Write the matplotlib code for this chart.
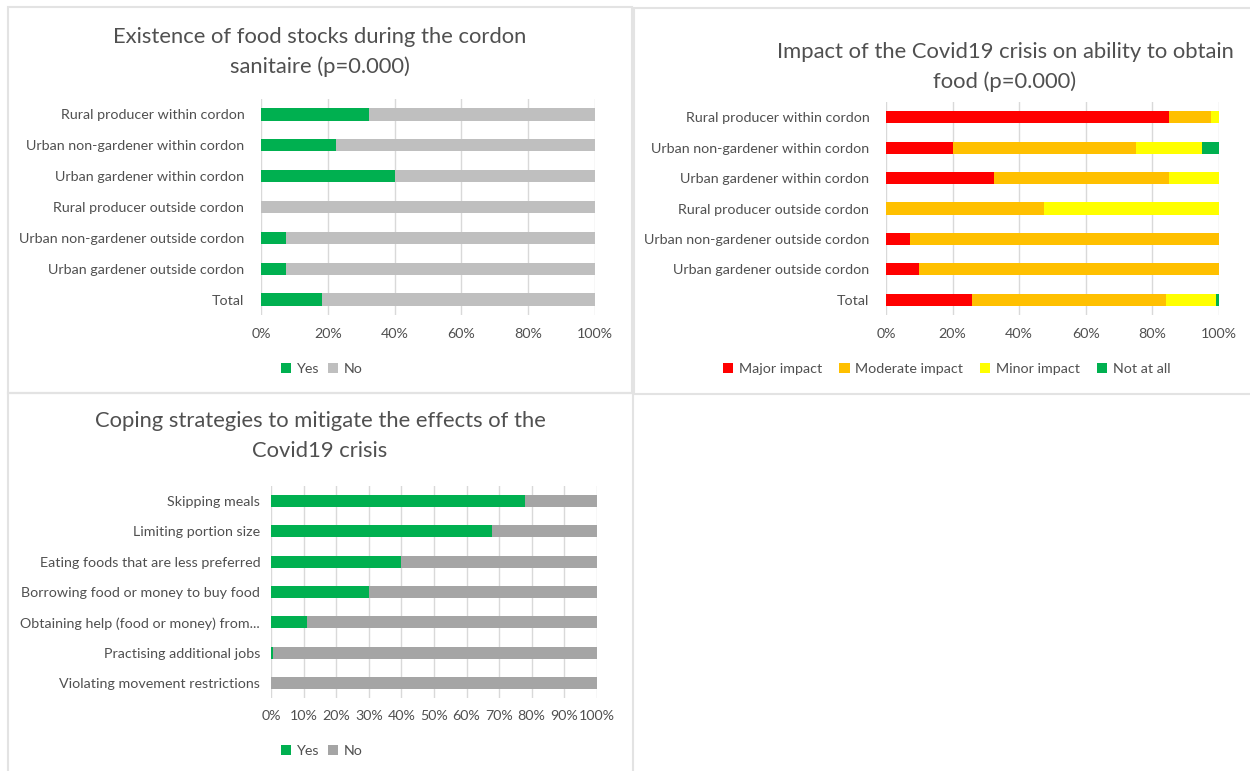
import matplotlib
matplotlib.use("Agg")
import matplotlib.pyplot as plt
from matplotlib.patches import Rectangle
import numpy as np

plt.rcParams['font.family'] = ['Lato', 'DejaVu Sans']

# ---------------- data ----------------
stock_categories = ["Rural producer within cordon", "Urban non-gardener within cordon",
                    "Urban gardener within cordon", "Rural producer outside cordon",
                    "Urban non-gardener outside cordon", "Urban gardener outside cordon", "Total"]
stock_yes = [32.4, 22.4, 40.0, 0.0, 7.4, 7.4, 18.4]
stock_no = [67.6, 77.6, 60.0, 100.0, 92.6, 92.6, 81.6]

impact_categories = stock_categories
impact_major = [85.0, 20.0, 32.5, 0.0, 7.3, 10.0, 25.7]
impact_moderate = [12.6, 55.0, 52.5, 47.4, 92.7, 90.0, 58.5]
impact_minor = [2.4, 20.0, 15.0, 52.6, 0.0, 0.0, 15.0]
impact_none = [0.0, 5.0, 0.0, 0.0, 0.0, 0.0, 0.8]

coping_categories = ["Skipping meals", "Limiting portion size", "Eating foods that are less preferred",
                     "Borrowing food or money to buy food", "Obtaining help (food or money) from...",
                     "Practising additional jobs", "Violating movement restrictions"]
coping_yes = [78.1, 67.9, 39.8, 30.0, 10.9, 0.5, 0.0]
coping_no = [21.9, 32.1, 60.2, 70.0, 89.1, 99.5, 100.0]

stock_ticks = [0, 20, 40, 60, 80, 100]
coping_ticks = [0, 10, 20, 30, 40, 50, 60, 70, 80, 90, 100]

GREEN = "#00B050"
GREY1 = "#BFBFBF"
GREY2 = "#A5A5A5"
RED = "#FF0000"
ORANGE = "#FFC000"
YELLOW = "#FFFF00"
TXT = "#505050"
GRID = "#D9D9D9"

LABEL_FS = 10.3
TITLE_FS = 15.8

W, H = 1250, 771
fig = plt.figure(figsize=(W / 100, H / 100), dpi=100)


def fx(x):
    return x / W


def fy(y):
    return 1 - y / H


# panel borders
for (x0, y0, x1, y1) in [(8, 7, 632, 393), (634, 8, 1262, 394), (8, 393, 633, 780)]:
    fig.patches.append(Rectangle((fx(x0), fy(y1)), fx(x1 - x0), (y1 - y0) / H,
                                 transform=fig.transFigure, fill=False,
                                 edgecolor="#E3E3E3", linewidth=1.5, zorder=0))


def make_axes(px_left, px_right, px_top, px_bottom):
    return fig.add_axes([fx(px_left), fy(px_bottom), fx(px_right - px_left), (px_bottom - px_top) / H])


def style(ax, cats, ticks, ypad):
    n = len(cats)
    ax.set_ylim(n - 0.5, -0.5)
    ax.set_xlim(0, 100)
    ax.set_yticks(range(n))
    ax.set_yticklabels(cats, fontsize=LABEL_FS, color=TXT)
    ax.set_xticks(ticks)
    ax.set_xticklabels([f"{t}%" for t in ticks], fontsize=LABEL_FS, color=TXT)
    for s in ax.spines.values():
        s.set_visible(False)
    ax.tick_params(axis='both', length=0)
    ax.tick_params(axis='y', pad=ypad)
    ax.tick_params(axis='x', pad=9)
    ax.grid(axis='x', color=GRID, linewidth=1)
    ax.set_axisbelow(True)


def stacked(ax, cats, series, colors, labels):
    y = np.arange(len(cats))
    left = np.zeros(len(cats))
    handles = []
    for vals, c, lab in zip(series, colors, labels):
        b = ax.barh(y, vals, left=left, height=0.4, color=c, label=lab)
        handles.append(b)
        left = left + np.array(vals)
    return handles


def legend(handles, labels, cx, cy, spacing):
    fig.legend(handles, labels, loc='center', bbox_to_anchor=(fx(cx), fy(cy)), ncol=len(labels),
               frameon=False, fontsize=LABEL_FS, labelcolor=TXT, handlelength=0.7, handleheight=0.7,
               handletextpad=0.4, columnspacing=spacing)


# ---- chart 1 ----
ax1 = make_axes(261, 595, 99, 315)
h1 = stacked(ax1, stock_categories, [stock_yes, stock_no], [GREEN, GREY1], ["Yes", "No"])
style(ax1, stock_categories, stock_ticks, 12)
fig.text(fx(320), fy(52), "Existence of food stocks during the cordon\nsanitaire (p=0.000)",
         ha='center', va='center', fontsize=TITLE_FS, color=TXT, linespacing=1.6)
legend(h1, ["Yes", "No"], 322, 369, 0.6)

# ---- chart 2 ----
ax2 = make_axes(886, 1219, 102, 315)
h2 = stacked(ax2, impact_categories, [impact_major, impact_moderate, impact_minor, impact_none],
             [RED, ORANGE, YELLOW, GREEN],
             ["Major impact", "Moderate impact", "Minor impact", "Not at all"])
style(ax2, impact_categories, stock_ticks, 12)
fig.text(fx(1005), fy(67), "Impact of the Covid19 crisis on ability to obtain\nfood (p=0.000)",
         ha='center', va='center', fontsize=TITLE_FS, color=TXT, linespacing=1.6)
legend(h2, ["Major impact", "Moderate impact", "Minor impact", "Not at all"], 947, 369, 1.2)

# ---- chart 3 ----
ax3 = make_axes(271.3, 596.7, 486, 698)
h3 = stacked(ax3, coping_categories, [coping_yes, coping_no], [GREEN, GREY2], ["Yes", "No"])
style(ax3, coping_categories, coping_ticks, 8)
fig.text(fx(320), fy(436), "Coping strategies to mitigate the effects of the\nCovid19 crisis",
         ha='center', va='center', fontsize=TITLE_FS, color=TXT, linespacing=1.6)
legend(h3, ["Yes", "No"], 322, 751, 0.6)

fig.savefig("out.png", dpi=100)
